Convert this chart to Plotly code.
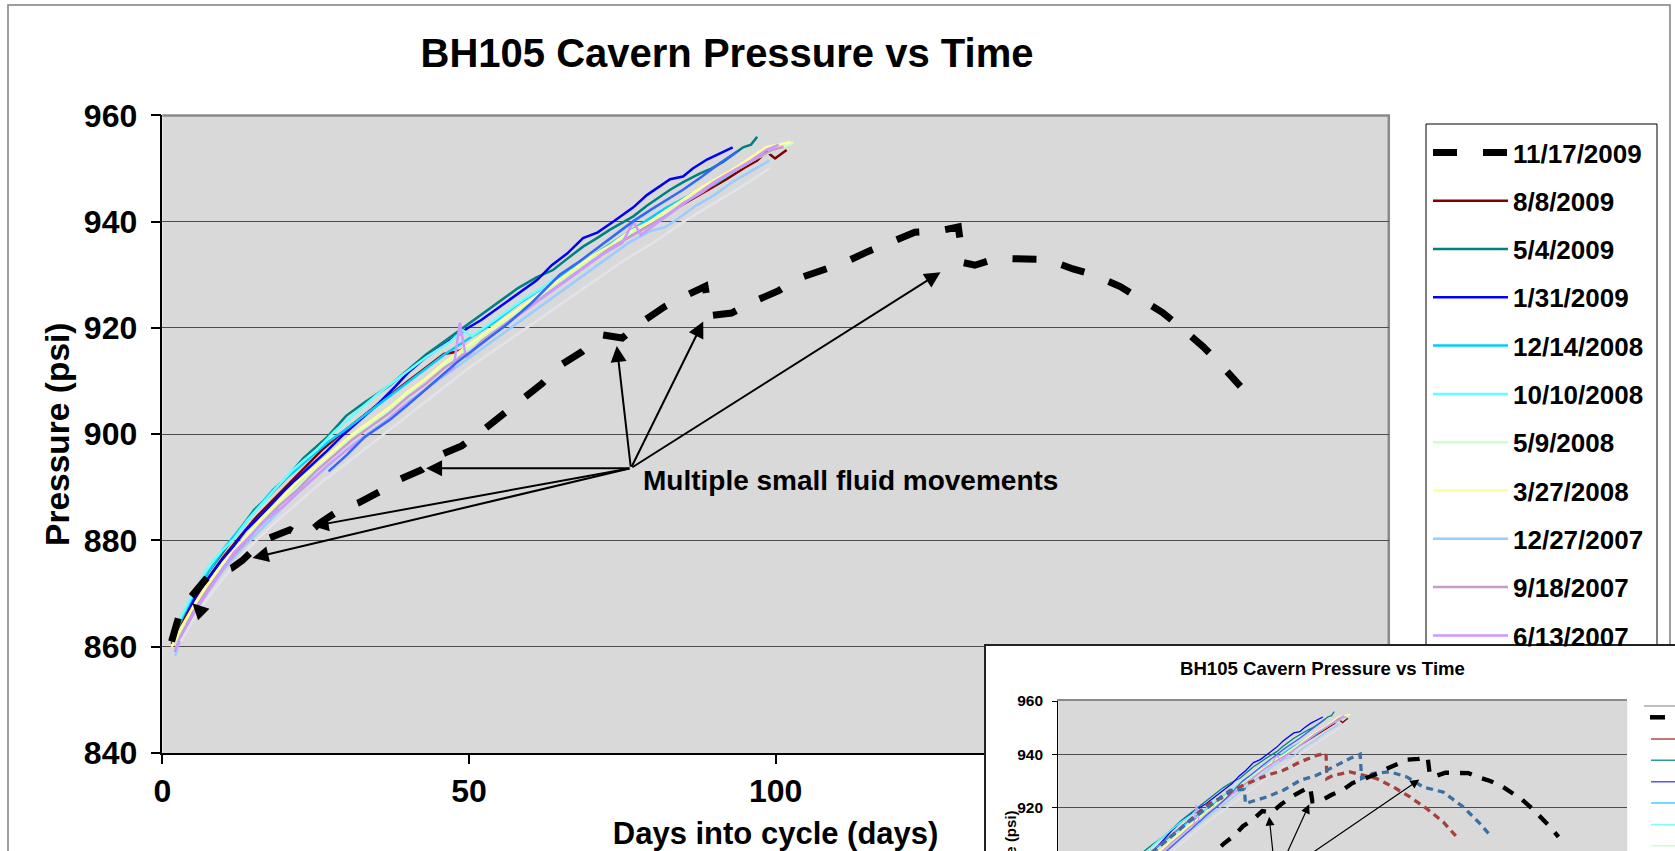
import plotly.graph_objects as go

FONT = "Liberation Sans, Arial, Helvetica, sans-serif"
W, H = 1675, 851

# ---------------- data ----------------
x_ticks = [0, 50, 100, 150, 200]
y_ticks = [840, 860, 880, 900, 920, 940, 960]

d_1117_2009 = [1.5, 2.6, 4.0, 6.0, 7.5, 9.5, 11.3, 13.0, 14.3, 16.0, 17.5, 19.0, 20.8, 22.3, 23.5, 25.7,
               27.5, 29.0, 32.0, 35.5, 38.5, 42.3, 45.3, 48.8, 52.0, 55.3, 58.2, 61.9, 64.8, 68.4, 71.7,
               73.5, 75.0, 78.3, 81.9, 85.2, 88.5, 89.3, 92.8, 96.1, 100.5, 103.4, 107.8, 111.0, 115.1,
               118.7, 122.7, 126.7, 129.8, 130.6, 132.5, 136.1, 140.2, 144.2, 148.5, 151.8, 156.2,
               159.4, 163.1, 166.4, 169.7, 172.6, 175.8]
p_1117_2009 = [861.0, 865.4, 868.5, 871.5, 873.3, 874.2, 874.8, 876.2, 877.7, 879.5, 880.5, 881.2, 882.0,
               881.0, 881.1, 883.3, 884.5, 885.8, 887.1, 889.2, 891.4, 893.3, 896.1, 897.8, 900.5, 903.5,
               906.5, 909.5, 912.9, 915.5, 918.7, 918.3, 918.1, 921.2, 924.0, 926.0, 927.8, 922.3, 922.8,
               924.8, 927.0, 929.2, 930.9, 932.2, 934.4, 936.1, 938.0, 938.3, 939.0, 932.3, 931.8, 933.1,
               932.9, 932.9, 931.1, 930.0, 927.8, 925.6, 922.9, 919.8, 916.5, 913.1, 909.0]

d_0808_2009 = [1.5, 3.0, 5.0, 7.5, 10.0, 12.5, 15.0, 17.5, 20.0, 23.0, 26.0, 29.0, 32.0, 35.0, 38.0, 41.0,
               44.0, 45.9, 48.0, 50.0, 52.0, 53.9, 57.0, 60.0, 63.0, 66.0, 69.0, 72.0, 75.0, 78.0, 80.0,
               83.0, 86.0, 89.0, 92.0, 95.0, 97.0, 98.5, 99.9, 101.8]
p_0808_2009 = [860.5, 864.0, 868.5, 873.0, 877.0, 880.5, 884.0, 887.0, 890.0, 893.5, 897.0, 900.0, 902.8,
               905.5, 908.2, 910.8, 913.5, 915.1, 915.5, 916.5, 918.3, 920.0, 922.5, 925.0, 927.5, 930.0,
               932.3, 934.5, 936.7, 938.8, 940.0, 942.0, 944.0, 946.0, 948.0, 950.2, 951.5, 953.2, 951.9,
               953.5]

d_0504_2009 = [1.5, 3.0, 5.0, 7.5, 10.0, 12.5, 15.0, 17.5, 20.0, 23.0, 26.9, 30.0, 33.0, 37.1, 40.0, 43.0,
               46.0, 49.0, 52.0, 55.0, 58.0, 61.0, 63.7, 66.0, 68.6, 71.0, 73.0, 76.8, 79.0, 82.8, 85.0,
               87.7, 89.5, 91.5, 93.0, 94.7, 96.0, 97.0]
p_0504_2009 = [861.0, 865.0, 869.5, 874.0, 878.0, 882.0, 885.8, 888.5, 891.5, 895.5, 899.5, 903.5, 906.0,
               909.2, 912.0, 915.0, 917.5, 920.0, 922.5, 925.0, 927.5, 929.5, 930.9, 933.0, 935.3, 937.0,
               938.5, 941.0, 943.0, 946.0, 947.5, 949.1, 950.0, 951.3, 952.5, 954.0, 954.5, 956.0]

d_0131_2009 = [1.4, 2.5, 4.5, 6.0, 7.8, 9.5, 11.6, 13.5, 15.9, 17.8, 19.7, 21.5, 23.5, 25.0, 26.8, 29.5,
               32.0, 35.0, 38.0, 40.0, 43.0, 46.0, 49.8, 52.0, 54.6, 58.0, 61.1, 63.5, 66.0, 68.6, 71.0,
               73.5, 76.8, 79.0, 82.8, 84.9, 86.5, 88.8, 90.9, 93.0]
p_0131_2009 = [861.4, 864.5, 867.6, 870.5, 873.3, 876.0, 878.9, 881.8, 884.5, 886.9, 889.2, 891.2, 893.3,
               895.0, 896.8, 899.9, 902.5, 905.5, 909.0, 911.5, 914.5, 917.0, 920.0, 921.5, 923.6, 926.5,
               929.0, 931.8, 934.0, 936.9, 938.0, 940.0, 942.7, 945.0, 948.0, 948.5, 950.0, 951.7, 952.9,
               954.0]

d_1214_2008 = [1.5, 3.0, 5.0, 7.5, 10.0, 12.5, 15.0, 18.0, 21.0, 24.0, 27.0, 30.0, 34.0, 38.0, 42.0, 46.0,
               50.0, 54.0, 58.0, 62.0, 66.0, 70.0, 74.0, 78.0, 82.0, 86.0, 90.0, 94.0, 97.0, 100.0]
p_1214_2008 = [861.0, 865.0, 869.5, 874.0, 878.5, 882.0, 885.5, 889.5, 892.5, 895.5, 898.5, 901.0, 904.5,
               908.0, 911.5, 915.0, 918.0, 921.0, 924.5, 927.5, 930.5, 933.5, 936.5, 939.5, 942.5, 945.0,
               947.0, 950.0, 952.0, 953.5]

d_1010_2008 = [1.5, 3.0, 5.0, 7.5, 9.5, 11.6, 14.0, 16.5, 18.6, 21.0, 23.0, 25.2, 28.0, 31.0, 35.0, 39.0,
               43.0, 47.0, 49.0, 50.5, 53.0, 56.0, 59.0, 62.6, 64.0]
p_1010_2008 = [861.5, 865.5, 870.0, 875.0, 877.8, 880.2, 884.0, 887.2, 889.9, 893.0, 895.0, 897.1, 900.5,
               903.5, 907.5, 911.0, 914.5, 917.5, 919.5, 918.5, 920.5, 923.0, 925.5, 928.0, 929.5]

d_0509_2008 = [1.5, 3, 5, 7.5, 10, 13, 16, 19, 22, 25, 28, 31, 34, 37, 40, 43, 46, 49, 52, 55, 58, 61, 64,
               67, 70, 73, 76, 79, 82, 85, 88, 91, 94, 97, 100, 102.9]
p_0509_2008 = [860, 863, 867, 871.5, 875.5, 879.5, 883.5, 887, 890, 893.5, 896.5, 899.5, 902, 904.5, 907.5,
               910.5, 913, 915.5, 918, 920.5, 923, 925.5, 928, 930.5, 933, 935, 937.5, 939.5, 941.5,
               943.5, 946, 948, 950, 952, 953.5, 954.9]

d_0327_2008 = [1.5, 3, 5, 7.5, 10, 13, 16, 19, 22, 25, 28, 31, 34, 37, 40, 43, 46, 49, 52, 55, 58, 61, 64,
               67, 70, 73, 76, 79.5, 82, 85, 88, 91, 94, 96.5, 98.6, 100.5, 102.5]
p_0327_2008 = [860, 863.5, 867.5, 872, 876, 880, 884, 887.5, 891, 894, 897, 900, 902.5, 905, 908, 910.5,
               913.5, 916, 918.5, 921, 923.5, 926, 928.5, 931, 933.5, 935.5, 938, 940, 942, 944.2, 946.5,
               948.5, 950.5, 952.5, 954.1, 954.5, 955]

d_1227_2007 = [2.1, 3, 5, 7.5, 10, 13, 16, 19, 22, 25, 28, 31, 34, 37, 40, 43, 46, 49, 52, 55, 58, 61, 64,
               67, 70, 73, 76, 79.5, 82, 84, 87, 90, 93, 96, 99]
p_1227_2007 = [858.3, 862, 866, 870.5, 874.5, 878.5, 882, 885.5, 889, 892, 895, 898, 900.5, 903, 906,
               908.5, 911, 913.5, 916, 918.5, 921, 923.5, 926, 928.5, 931, 933.5, 936, 938.2, 939, 940.5,
               943, 945, 947.5, 949.5, 951.5]

d_0918_2007 = [2, 3, 5, 7.5, 10, 13, 16, 19, 22, 25, 28, 31, 34, 37, 40, 43, 46, 48, 49, 50, 52, 55, 58,
               61, 64, 67, 70, 73, 76, 79, 82, 85, 88, 91, 94, 97, 99.5, 101.3]
p_0918_2007 = [859, 862, 866.5, 871, 875, 879, 883, 886.5, 889.5, 893, 896, 899, 901.5, 904, 907, 909.5,
               912.5, 914, 915, 915, 917.5, 920, 922.5, 925, 927.5, 930, 932.5, 935, 937, 939, 941, 943.5,
               945.5, 948, 950, 952, 953.5, 954.1]

d_0613_2007 = [2.1, 3, 5, 7.5, 10, 11.6, 14, 17, 19.7, 23, 26.8, 30, 33, 36, 39, 42, 45, 47.5, 48.5, 49.5,
               51, 54, 57, 60, 63, 66, 69, 72, 75, 76.8, 78, 81, 84, 87, 90, 93, 96, 98.5, 100.5]
p_0613_2007 = [859.5, 861.5, 866, 870.5, 875, 877.7, 880.5, 884, 886.4, 890, 894, 897, 899.5, 902, 905,
               907.5, 910.5, 912.5, 921, 914.5, 916, 919, 921.5, 924, 926.5, 929, 931.5, 934, 936, 940,
               937.5, 940, 942.5, 945, 947.5, 949.5, 951.5, 953.5, 954.5]

# two further cycles whose legend entries are hidden behind the inset
d_hidden_a = [27.1, 30, 33, 37.1, 40, 44, 48, 52, 56, 60, 64.8, 68, 72, 76.8, 80, 84.9, 88, 90.9, 93.7]
p_hidden_a = [893, 896, 899.5, 902.7, 905.5, 909.5, 913.5, 917, 920.5, 924.5, 930, 932.5, 936, 940.1,
              942.5, 946, 948.5, 951, 953.2]
d_hidden_b = [3, 6, 10, 14, 18, 22, 26, 30, 35, 40, 45, 50, 55, 60, 65, 70, 75, 80, 85, 90, 95, 99]
p_hidden_b = [861, 867, 873, 878.5, 883, 887, 891, 894.5, 899, 903.5, 908, 912.5, 916.5, 920.5, 924.5,
              928.5, 932.5, 936, 940, 943.5, 947, 950]

# extra cycles only present in the inset chart
d_inset_red = [1.5, 5, 10, 15, 20, 25, 30, 35, 40, 45, 52.2, 58, 62, 66.2, 70, 73.3, 79.1, 85, 90.8, 94.1,
               94.4, 96.7, 102.5, 107.2, 111.9, 117.8, 123.6, 129.5, 135.3, 140]
p_inset_red = [861, 868.5, 877, 884, 890, 895.5, 900.5, 905, 909.5, 914, 920.9, 924, 927, 929, 930.8,
               932.1, 934, 937.1, 939.6, 940.3, 930.9, 932.1, 933.4, 932.1, 930.9, 927.7, 924, 919.6,
               914.6, 909]
d_inset_blue = [1.5, 5, 10, 15, 20, 25, 30, 35, 40, 45, 50, 55, 60.4, 65.4, 65.8, 67.4, 73.3, 79.1, 85,
                90.8, 96.7, 102.5, 106.1, 106.6, 110.7, 116.6, 122.5, 128.3, 135.3, 142.4, 148.2, 152.3]
p_inset_blue = [861, 868.5, 877, 884, 890, 895.5, 900.5, 905, 909.5, 914, 918, 922, 926.5, 926.8, 921.5,
                922.1, 924, 926.5, 930.2, 932.1, 935.3, 938.4, 940, 930.9, 932.8, 933.4, 931.5, 927.7,
                925.8, 920.2, 914, 909]

# annotation arrows (day, psi)
arrow_origin = (76.4, 893.6)
arrow_tip_days = [43.0, 24.5, 14.7, 74.1, 88.2, 126.9]
arrow_tip_psi = [893.6, 882.7, 876.7, 916.6, 921.2, 930.5]
lone_head = (4.9, 868.2)
note_text = "Multiple small fluid movements"
note_pos = (78.0, 891.3)

# ---------------- helpers ----------------
def fx(px):
    return px / W

def fy(py):
    return 1 - py / H

bold = dict(family=FONT, color="black", weight="bold")

colored = [
    ("8/8/2009", d_0808_2009, p_0808_2009, "#800000", True),
    ("5/4/2009", d_0504_2009, p_0504_2009, "#008080", True),
    ("1/31/2009", d_0131_2009, p_0131_2009, "#0000ff", True),
    ("12/14/2008", d_1214_2008, p_1214_2008, "#00ccff", True),
    ("10/10/2008", d_1010_2008, p_1010_2008, "#66ffff", True),
    ("5/9/2008", d_0509_2008, p_0509_2008, "#ccffcc", True),
    ("3/27/2008", d_0327_2008, p_0327_2008, "#ffff99", True),
    ("12/27/2007", d_1227_2007, p_1227_2007, "#99ccff", True),
    ("9/18/2007", d_0918_2007, p_0918_2007, "#cc99cc", True),
    ("6/13/2007", d_0613_2007, p_0613_2007, "#cc99ff", True),
    ("hidden A", d_hidden_a, p_hidden_a, "#3366ff", False),
    ("hidden B", d_hidden_b, p_hidden_b, "#e3e3ea", False),
]

fig = go.Figure()

# ---- main chart ----
for i, (name, d, p, col, show) in enumerate(colored):
    fig.add_trace(go.Scatter(x=d, y=p, name=name, mode="lines", line=dict(color=col, width=2.5),
                             xaxis="x", yaxis="y", showlegend=show, legendgroup="m" + name,
                             legendrank=10 + i, hoverinfo="skip"))
fig.add_trace(go.Scatter(x=d_1117_2009, y=p_1117_2009, name="11/17/2009", mode="lines",
                         line=dict(color="black", width=7, dash="24px,26px"),
                         xaxis="x", yaxis="y", legendgroup="m11/17/2009", legendrank=1, hoverinfo="skip"))

# ---- white panel of the overlapping second chart ----
fig.add_trace(go.Scatter(x=[0.5], y=[0.5], mode="lines", xaxis="x2", yaxis="y2", showlegend=False,
                         hoverinfo="skip"))

# ---- inset chart ----
for name, d, p, col, show in colored:
    fig.add_trace(go.Scatter(x=d, y=p, mode="lines", line=dict(color=col, width=1.3), xaxis="x3",
                             yaxis="y3", showlegend=False, hoverinfo="skip"))
fig.add_trace(go.Scatter(x=d_inset_red, y=p_inset_red, mode="lines",
                         line=dict(color="#a5403d", width=3.3, dash="7px,5px"),
                         xaxis="x3", yaxis="y3", showlegend=False, hoverinfo="skip"))
fig.add_trace(go.Scatter(x=d_inset_blue, y=p_inset_blue, mode="lines",
                         line=dict(color="#3d6fa3", width=3.3, dash="7px,5px"),
                         xaxis="x3", yaxis="y3", showlegend=False, hoverinfo="skip"))
fig.add_trace(go.Scatter(x=d_1117_2009, y=p_1117_2009, mode="lines",
                         line=dict(color="black", width=4.3, dash="12px,11px"),
                         xaxis="x3", yaxis="y3", showlegend=False, hoverinfo="skip"))

# ---------------- annotations ----------------
ann = []
for xd, yp in zip(arrow_tip_days, arrow_tip_psi):
    ann.append(dict(x=xd, y=yp, xref="x", yref="y", ax=arrow_origin[0], ay=arrow_origin[1],
                    axref="x", ayref="y", text="", showarrow=True, arrowhead=2, arrowsize=1.6,
                    arrowwidth=2, arrowcolor="black", standoff=0, startstandoff=0))
    ann.append(dict(x=xd, y=yp, xref="x3", yref="y3", ax=arrow_origin[0], ay=arrow_origin[1],
                    axref="x3", ayref="y3", text="", showarrow=True, arrowhead=2, arrowsize=1.5,
                    arrowwidth=1.2, arrowcolor="black", standoff=0, startstandoff=0))
ann.append(dict(x=lone_head[0], y=lone_head[1], xref="x", yref="y", ax=12, ay=12, text="",
                showarrow=True, arrowhead=2, arrowsize=1.6, arrowwidth=2, arrowcolor="black"))
ann.append(dict(x=note_pos[0], y=note_pos[1], xref="x", yref="y", text=note_text, showarrow=False,
                xanchor="left", yanchor="middle", font=dict(size=28, **bold)))
ann.append(dict(x=fx(1322.5), y=fy(668.3), xref="paper", yref="paper", text="BH105 Cavern Pressure vs Time",
                showarrow=False, xanchor="center", yanchor="middle", font=dict(size=18.6, **bold)))
ann.append(dict(x=fx(1009.5), y=fy(861), xref="paper", yref="paper", text="Pressure (psi)", textangle=-90,
                showarrow=False, xanchor="center", yanchor="middle", font=dict(size=15, **bold)))

# ---------------- shapes ----------------
shapes = [
    # outer frame of the main chart
    dict(type="rect", xref="paper", yref="paper", x0=fx(8), x1=fx(1670), y0=fy(5), y1=-0.2,
         line=dict(color="#7f7f7f", width=1.5), layer="below"),
    # legend box
    dict(type="rect", xref="paper", yref="paper", x0=fx(1426), x1=fx(1657), y0=fy(124), y1=fy(720),
         line=dict(color="black", width=1), layer="below"),
    # gray top / right border of the main plot area
    dict(type="path", xref="paper", yref="paper",
         path=f"M {fx(162.4)},{fy(115.4)} L {fx(1388.8)},{fy(115.4)} L {fx(1388.8)},{fy(753)}",
         line=dict(color="#8a8a8a", width=2.5), layer="below"),
    # white panel of the second chart
    dict(type="rect", xref="x2", yref="y2", x0=0, x1=1, y0=0, y1=1, fillcolor="white",
         line=dict(width=0), layer="below"),
    # inset legend (cut off at right edge)
    dict(type="line", xref="paper", yref="paper", x0=fx(1644), x1=1.01, y0=fy(706), y1=fy(706),
         line=dict(color="#808080", width=1), layer="above"),
    dict(type="line", xref="paper", yref="paper", x0=fx(1650), x1=fx(1665), y0=fy(717.3), y1=fy(717.3),
         line=dict(color="black", width=4.5), layer="above"),
]
inset_leg_cols = ["#b04b48", "#2a9a9a", "#5555ff", "#40d0ff", "#80ffff", "#ccffcc"]
inset_leg_y = [739, 760.3, 781.7, 803, 824.7, 845.7]
for c, yy in zip(inset_leg_cols, inset_leg_y):
    shapes.append(dict(type="line", xref="paper", yref="paper", x0=fx(1651), x1=1.01, y0=fy(yy), y1=fy(yy),
                       line=dict(color=c, width=1.6), layer="above"))

common_axis = dict(automargin=False, zeroline=False)

fig.update_layout(
    template="none",
    width=W, height=H, autosize=False,
    margin=dict(l=0, r=0, t=0, b=0, pad=0, autoexpand=False),
    paper_bgcolor="white", plot_bgcolor="#d9d9d9",
    font=dict(family=FONT, color="black"),
    title=dict(text="BH105 Cavern Pressure vs Time", x=fx(727), xanchor="center", xref="paper",
               y=fy(53), yanchor="middle", yref="paper", font=dict(size=40, **bold), automargin=False),
    showlegend=True,
    legend=dict(x=fx(1428), y=fy(129), xanchor="left", yanchor="top", bgcolor="rgba(0,0,0,0)",
                borderwidth=0, font=dict(size=26, **bold), itemwidth=75, tracegroupgap=11.5,
                traceorder="grouped"),
    xaxis=dict(domain=[fx(162.4), fx(1388.8)], range=[0, 200], tickvals=x_ticks, anchor="y",
               ticks="outside", ticklen=9, tickwidth=1.5, tickcolor="black", ticklabelstandoff=0,
               showline=True, linecolor="black", linewidth=1.5, showgrid=False,
               tickfont=dict(size=32, **bold),
               title=dict(text="Days into cycle (days)", font=dict(size=31, **bold), standoff=26),
               **common_axis),
    yaxis=dict(domain=[fy(753), fy(115.4)], range=[840, 960], tickvals=y_ticks, anchor="x",
               ticks="outside", ticklen=10, tickwidth=1.5, tickcolor="black", ticklabelstandoff=7,
               showline=True, linecolor="black", linewidth=1.5, showgrid=True, gridcolor="#4d4d4d",
               gridwidth=1, tickfont=dict(size=32, **bold),
               title=dict(text="Pressure (psi)", font=dict(size=33.5, **bold), standoff=4),
               **common_axis),
    xaxis2=dict(domain=[fx(986), 1], range=[0, 1], anchor="y2", side="top", showline=True,
                linecolor="#222222", linewidth=1.5, showgrid=False,
                showticklabels=False, ticks="", **common_axis),
    yaxis2=dict(domain=[0, fy(646)], range=[0, 1], anchor="x2", side="left", showline=True,
                linecolor="#222222", linewidth=1.5, showgrid=False,
                showticklabels=False, ticks="", **common_axis),
    xaxis3=dict(domain=[fx(1058.3), fx(1627.3)], range=[0, 200], anchor="y3", showline=True, mirror=True,
                linecolor="#8a8a8a", linewidth=2, showgrid=False,
                showticklabels=False, ticks="", **common_axis),
    yaxis3=dict(domain=[0, fy(701)], range=[903.7, 960], anchor="x3", tickvals=y_ticks,
                ticks="outside", ticklen=5, tickwidth=1, tickcolor="black", ticklabelstandoff=6,
                showline=True, linecolor="black", linewidth=1.2, showgrid=True, gridcolor="#4d4d4d",
                gridwidth=1, tickfont=dict(size=15.5, **bold), **common_axis),
    annotations=ann,
    shapes=shapes,
)

# the page's default 8px body margin would shift the fixed-size figure; remove it
fig.write_html("out.html",
               config={"displayModeBar": False},
               post_script="document.body.style.margin='0';document.body.style.overflow='hidden';")
